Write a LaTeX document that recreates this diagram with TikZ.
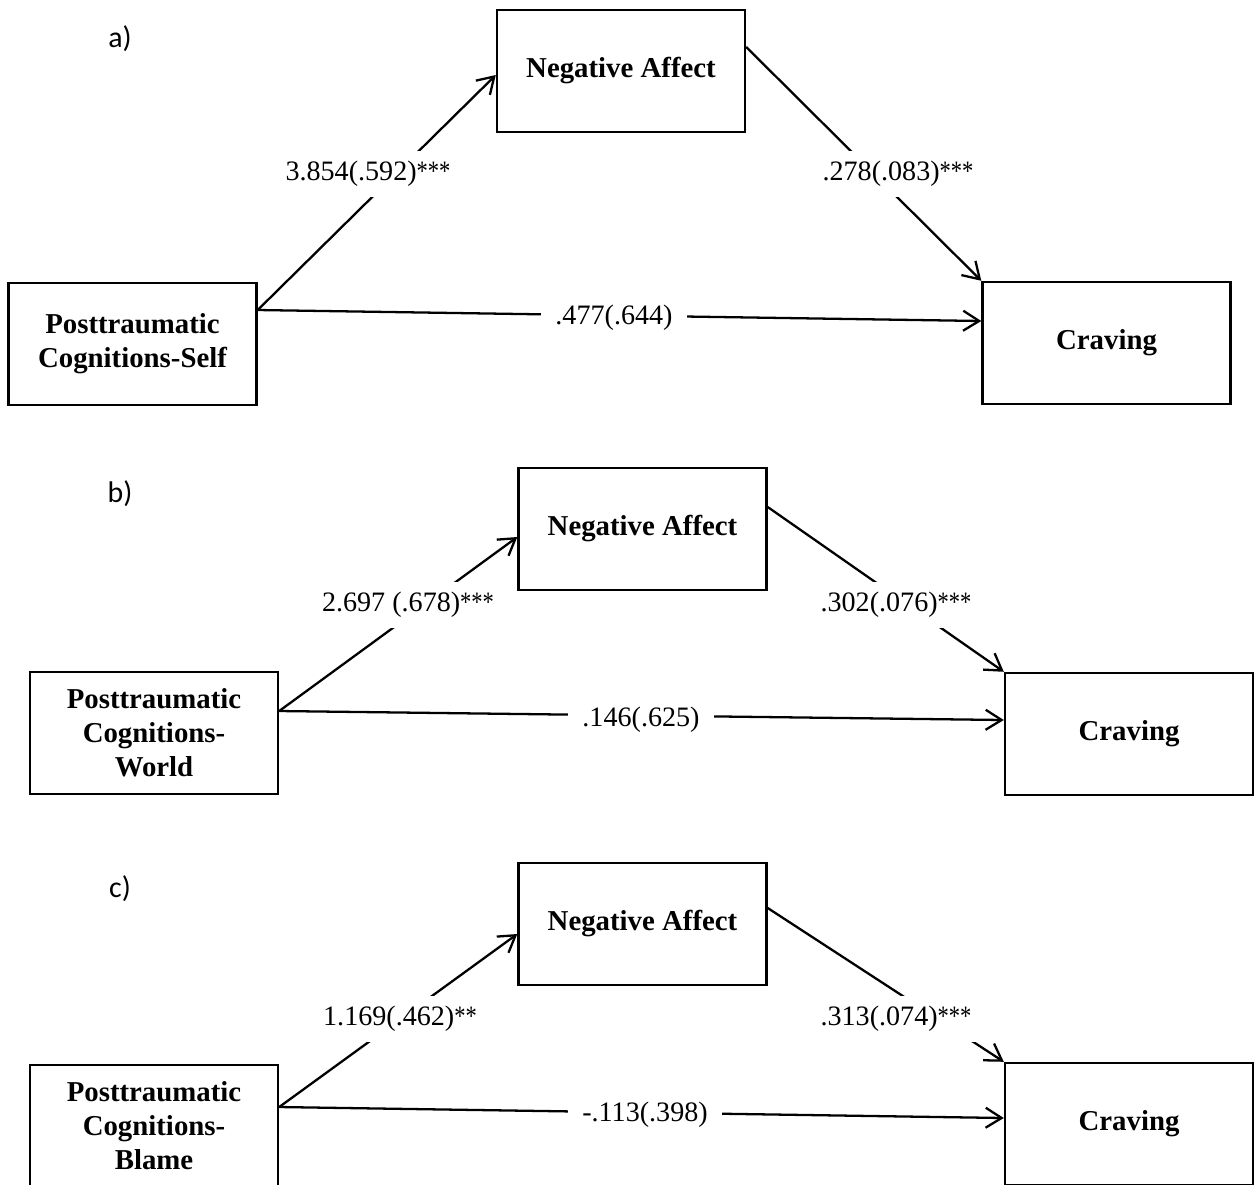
\documentclass[tikz,border=0pt]{standalone}
\usepackage{fontspec}
\usepackage{graphicx}
\setmainfont{Liberation Serif}
\newfontfamily\panelfont{Carlito}
\usetikzlibrary{arrows.meta,calc}
\newcommand{\sig}[1]{\scalebox{0.8}[1]{#1}}

\begin{document}
\begin{tikzpicture}[x=0.02cm,y=-0.02cm,line width=1.3pt,
    box/.style={rectangle,draw,line width=1.4pt,minimum width=4.96cm,minimum height=2.44cm,inner sep=0pt,align=center,font=\fontsize{16.4}{19.4}\selectfont\bfseries},
    lbl/.style={fill=white,inner xsep=0.28cm,inner ysep=0.2cm,font=\fontsize{16}{19}\selectfont},
    tag/.style={font=\fontsize{17}{20}\selectfont\panelfont},
    ptr/.style={-{Straight Barb[length=0.32cm,width=0.4cm,line width=1.3pt]},line width=1.3pt}]

\clip (0,0) rectangle (1257,1184);

% a) Self
\node[tag] (ta) at (120,39) {a)};
\node[box] (na1) at (621,71) {Negative Affect};
\node[box] (pc1) at (132.5,344) {Posttraumatic\\Cognitions-Self};
\node[box] (cr1) at (1106.5,343) {Craving};

\draw[ptr] ([yshift=0.68cm]pc1.east) -- ([yshift=-0.08cm]na1.west);
\draw[ptr] ([yshift=0.48cm]na1.east) -- (cr1.north west);
\draw[ptr] ([yshift=0.68cm]pc1.east) -- ([yshift=0.44cm]cr1.west);
\node[lbl] (a1) at (368,174) {3.854(.592)\sig{***}};
\node[lbl] (b1) at (898,174) {.278(.083)\sig{***}};
\node[lbl] (c1) at (614,318) {.477(.644)};

% b) World
\node[tag] (tb) at (120,494) {b)};
\node[box] (na2) at (642.5,529) {Negative Affect};
\node[box] (pc2) at (154,733) {Posttraumatic\\Cognitions-\\World};
\node[box] (cr2) at (1129,734) {Craving};

\draw[ptr] ([yshift=0.44cm]pc2.east) -- ([yshift=-0.16cm]na2.west);
\draw[ptr] ([yshift=0.44cm]na2.east) -- (cr2.north west);
\draw[ptr] ([yshift=0.44cm]pc2.east) -- ([yshift=0.28cm]cr2.west);
\node[lbl] (a2) at (408,605) {2.697 (.678)\sig{***}};
\node[lbl] (b2) at (896,605) {.302(.076)\sig{***}};
\node[lbl] (c2) at (641,720) {.146(.625)};

% c) Blame
\node[tag] (tc) at (120,889) {c)};
\node[box] (na3) at (642.5,924) {Negative Affect};
\node[box] (pc3) at (154,1126) {Posttraumatic\\Cognitions-\\Blame};
\node[box] (cr3) at (1129,1124) {Craving};

\draw[ptr] ([yshift=0.38cm]pc3.east) -- ([yshift=-0.2cm]na3.west);
\draw[ptr] ([yshift=0.32cm]na3.east) -- (cr3.north west);
\draw[ptr] ([yshift=0.38cm]pc3.east) -- ([yshift=0.12cm]cr3.west);
\node[lbl] (a3) at (400,1019) {1.169(.462)\sig{**}};
\node[lbl] (b3) at (896,1019) {.313(.074)\sig{***}};
\node[lbl] (c3) at (645,1115) {-.113(.398)};

\end{tikzpicture}
\end{document}
